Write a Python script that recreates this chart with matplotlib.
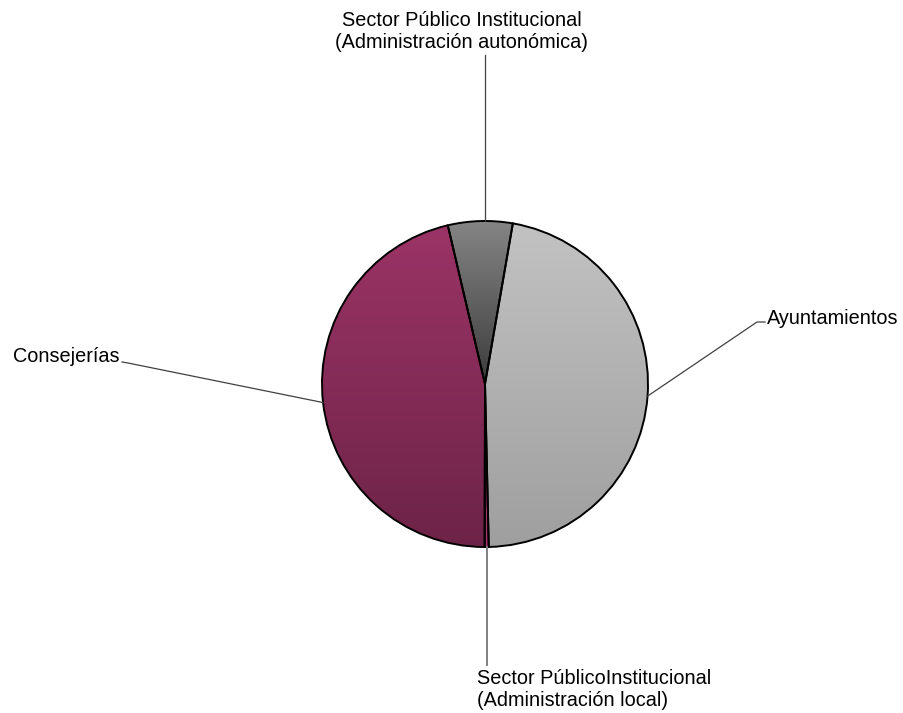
import numpy as np
import matplotlib.pyplot as plt
from matplotlib.colors import LinearSegmentedColormap

plt.rcParams['font.family'] = ['Liberation Sans', 'DejaVu Sans']

# data, clockwise from the top
labels = ['Sector Público Institucional\n(Administración autonómica)',
          'Ayuntamientos',
          'Sector PúblicoInstitucional\n(Administración local)',
          'Consejerías']
shares = [6.4, 46.9, 0.4, 46.3]
# gradient colours per slice (top, bottom)
grad_colors = [('#858585', '#3c3c3c'),
               ('#c2c2c2', '#9f9f9f'),
               ('#c8428a', '#a8306e'),
               ('#9b3466', '#6d2347')]

fig = plt.figure(figsize=(9.04, 7.13), dpi=100)
ax = fig.add_axes([0, 0, 1, 1])

cx, cy, r = 485, 713 - 384, 163
wedges, _ = ax.pie(shares, startangle=103.2, counterclock=False,
                   center=(cx, cy), radius=r, frame=True,
                   wedgeprops=dict(edgecolor='black', linewidth=1.4, facecolor='none'))
ax.set_xlim(0, 904)
ax.set_ylim(0, 713)
ax.set_aspect('equal')
ax.axis('off')

# vertical gradient fill clipped to each wedge
for w, (c1, c2) in zip(wedges, grad_colors):
    ext = w.get_patch_transform().transform_path(w.get_path()).get_extents()
    cmap = LinearSegmentedColormap.from_list('g', [c2, c1])
    grad = np.linspace(0, 1, 256).reshape(-1, 1)
    im = ax.imshow(grad, cmap=cmap, origin='lower', aspect='auto',
                   extent=[ext.x0, ext.x1, ext.y0, ext.y1], zorder=0.5)
    im.set_clip_path(w)
    w.set_zorder(1)
ax.set_xlim(0, 904)
ax.set_ylim(0, 713)

# leader lines and labels
fs = 14.3
def mid_point(w):
    ang = np.deg2rad((w.theta1 + w.theta2) / 2)
    return cx + r * np.cos(ang), cy + r * np.sin(ang)

# autonómica - straight up
ax.plot([cx, cx], [cy + r, 713 - 55], color='#404040', lw=0.9)
ax.text(462, 713 - 32, labels[0], fontsize=fs, ha='center', va='center',
        linespacing=1.2)

# Ayuntamientos
x0, y0 = mid_point(wedges[1])
ax.plot([x0, 757, 765], [y0, 713 - 322, 713 - 322], color='#404040', lw=0.9)
ax.text(767, 713 - 318, labels[1], fontsize=fs, ha='left', va='center')

# local - straight down
x0, y0 = mid_point(wedges[2])
ax.plot([x0, x0], [y0, 713 - 665], color='#808080', lw=1.4)
ax.text(477, 713 - 690, labels[2], fontsize=fs, ha='left', va='center',
        linespacing=1.2)

# Consejerías
x0, y0 = mid_point(wedges[3])
ax.plot([x0, 128, 122], [y0, 713 - 363, 713 - 362], color='#404040', lw=0.9)
ax.text(120, 713 - 356, labels[3], fontsize=fs, ha='right', va='center')

fig.savefig('out.png', dpi=100)
